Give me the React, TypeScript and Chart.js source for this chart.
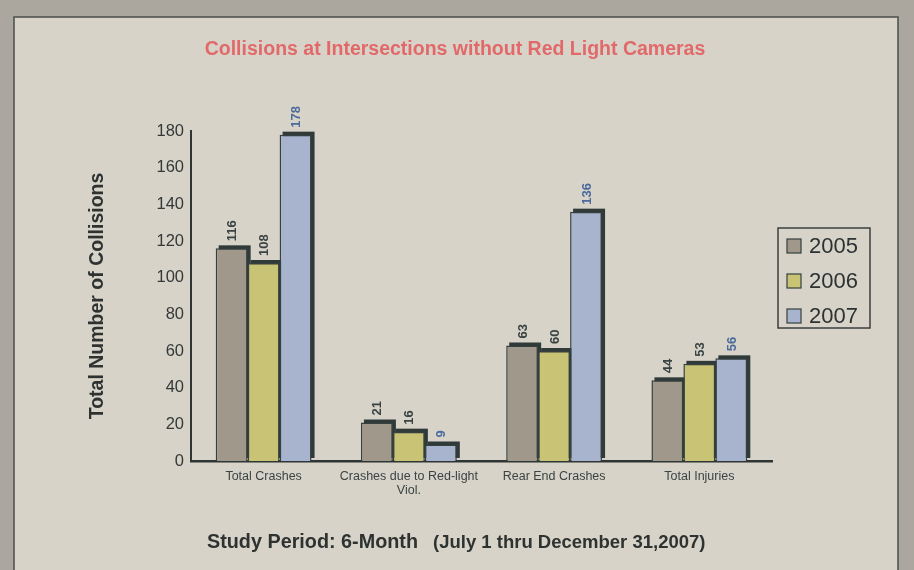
import React, { useEffect, useRef } from "react";
import { Chart, registerables } from "chart.js";

Chart.register(...registerables);

const categories: (string | string[])[] = [
  "Total Crashes",
  ["Crashes due to Red-light", "Viol."],
  "Rear End Crashes",
  "Total Injuries",
];
const seriesNames = ["2005", "2006", "2007"];
const values2005 = [116, 21, 63, 44];
const values2006 = [108, 16, 60, 53];
const values2007 = [178, 9, 136, 56];
const yTicks = [0, 20, 40, 60, 80, 100, 120, 140, 160, 180];
const titleText = "Collisions at Intersections without Red Light Cameras";
const footerMain = "Study Period: 6-Month";
const footerNote = "(July 1 thru December 31,2007)";

const FONT = "Arial, 'Liberation Sans', sans-serif";
const FILL = ["#9f988b", "#c9c375", "#a8b4cd"];
const LABEL_COLORS = ["#3a4343", "#3a4343", "#4a6b9b"];
const EDGE = "#36403f";
const DARK = "#2f3a39";

const framePlugin = {
  id: "frame",
  beforeDraw(chart: any) {
    const { ctx, width, height } = chart;
    ctx.save();
    ctx.fillStyle = "#aba79f";
    ctx.fillRect(0, 0, width, height);
    ctx.fillStyle = "#d8d3c8";
    ctx.fillRect(14, 17, 884, height);
    ctx.strokeStyle = "#4b4d4a";
    ctx.lineWidth = 1.5;
    ctx.beginPath();
    ctx.moveTo(14, height);
    ctx.lineTo(14, 17);
    ctx.lineTo(898, 17);
    ctx.lineTo(898, height);
    ctx.stroke();
    // title
    ctx.fillStyle = "#e2696a";
    ctx.font = `bold 19.5px ${FONT}`;
    ctx.textAlign = "center";
    ctx.textBaseline = "alphabetic";
    ctx.fillText(titleText, 455, 55);
    ctx.restore();
  },
};

const shadowPlugin = {
  id: "shadow3d",
  beforeDatasetsDraw(chart: any) {
    const { ctx } = chart;
    ctx.save();
    ctx.fillStyle = DARK;
    chart.data.datasets.forEach((_: any, i: number) => {
      const meta = chart.getDatasetMeta(i);
      meta.data.forEach((el: any) => {
        const w = el.width;
        ctx.fillRect(el.x - w / 2 + 3, el.y - 3, w, el.base - el.y);
      });
    });
    ctx.restore();
  },
  afterDatasetsDraw(chart: any) {
    const { ctx } = chart;
    ctx.save();
    ctx.font = `bold 13px ${FONT}`;
    ctx.textAlign = "left";
    ctx.textBaseline = "middle";
    chart.data.datasets.forEach((ds: any, i: number) => {
      const meta = chart.getDatasetMeta(i);
      ctx.fillStyle = LABEL_COLORS[i];
      meta.data.forEach((el: any, j: number) => {
        ctx.save();
        ctx.translate(el.x + 1, el.y - 7);
        ctx.rotate(-Math.PI / 2);
        ctx.fillText(String(ds.data[j]), 0, 0);
        ctx.restore();
      });
    });
    ctx.restore();
  },
};

const legendPlugin = {
  id: "boxLegend",
  afterDraw(chart: any) {
    const { ctx } = chart;
    const left = 778, top = 228, w = 92, h = 100;
    ctx.save();
    ctx.strokeStyle = "#3a3f3e";
    ctx.lineWidth = 1.5;
    ctx.strokeRect(left, top, w, h);
    ctx.font = `22px ${FONT}`;
    ctx.textBaseline = "middle";
    ctx.textAlign = "left";
    chart.data.datasets.forEach((ds: any, i: number) => {
      const cy = 246 + i * 35;
      ctx.fillStyle = ds.backgroundColor;
      ctx.fillRect(787, cy - 7, 14, 14);
      ctx.strokeStyle = EDGE;
      ctx.lineWidth = 1.2;
      ctx.strokeRect(787, cy - 7, 14, 14);
      ctx.fillStyle = "#2c3232";
      ctx.fillText(ds.label, 809, cy + 1);
    });
    ctx.restore();
  },
};

const footerPlugin = {
  id: "footerText",
  afterDraw(chart: any) {
    const { ctx } = chart;
    ctx.save();
    ctx.fillStyle = "#2e3332";
    ctx.textBaseline = "alphabetic";
    ctx.textAlign = "left";
    ctx.font = `bold 19.8px ${FONT}`;
    ctx.fillText(footerMain, 207, 548);
    ctx.font = `bold 18.5px ${FONT}`;
    ctx.fillText(footerNote, 433, 548);
    ctx.restore();
  },
};

export default function App() {
  const ref = useRef<HTMLCanvasElement | null>(null);
  useEffect(() => {
    if (!ref.current) return;
    const data = [values2005, values2006, values2007];
    const chart = new Chart(ref.current, {
      type: "bar",
      data: {
        labels: categories,
        datasets: seriesNames.map((name, i) => ({
          label: name,
          data: data[i],
          backgroundColor: FILL[i],
          borderColor: EDGE,
          borderWidth: 1.5,
          categoryPercentage: 0.66,
          barPercentage: 1.0,
        })),
      },
      options: {
        animation: false,
        responsive: false,
        maintainAspectRatio: false,
        layout: { padding: { left: 0, right: 142, top: 131, bottom: 0 } },
        plugins: {
          legend: { display: false },
          tooltip: { enabled: false },
          title: { display: false },
        },
        scales: {
          x: {
            grid: { display: false, drawTicks: false },
            border: { display: true, color: "#2f3535", width: 2.5 },
            ticks: {
              color: "#3a4444",
              padding: 8,
              maxRotation: 0,
              autoSkip: false,
              font: { family: FONT, size: 12.5, lineHeight: 1.15 },
            },
            afterFit(scale: any) {
              scale.height = 109;
            },
          },
          y: {
            min: 0,
            max: 180,
            afterBuildTicks(scale: any) {
              scale.ticks = yTicks.map((v) => ({ value: v }));
            },
            grid: { display: false, drawTicks: false },
            border: { display: true, color: "#2f3535", width: 2 },
            ticks: {
              color: "#333838",
              padding: 7,
              font: { family: FONT, size: 16.5 },
            },
            title: {
              display: true,
              text: "Total Number of Collisions",
              color: "#2e3332",
              font: { family: FONT, size: 19.5, weight: "bold", lineHeight: 1.2 },
              padding: { top: 86, bottom: 0 },
            },
            afterFit(scale: any) {
              scale.width = 191;
            },
          },
        },
      },
      plugins: [framePlugin, shadowPlugin, legendPlugin, footerPlugin],
    });
    return () => chart.destroy();
  }, []);
  return (
    <div style={{ position: "absolute", left: 0, top: 0, width: 914, height: 570 }}>
      <canvas ref={ref} width={914} height={570} style={{ width: 914, height: 570, display: "block" }} />
    </div>
  );
}
